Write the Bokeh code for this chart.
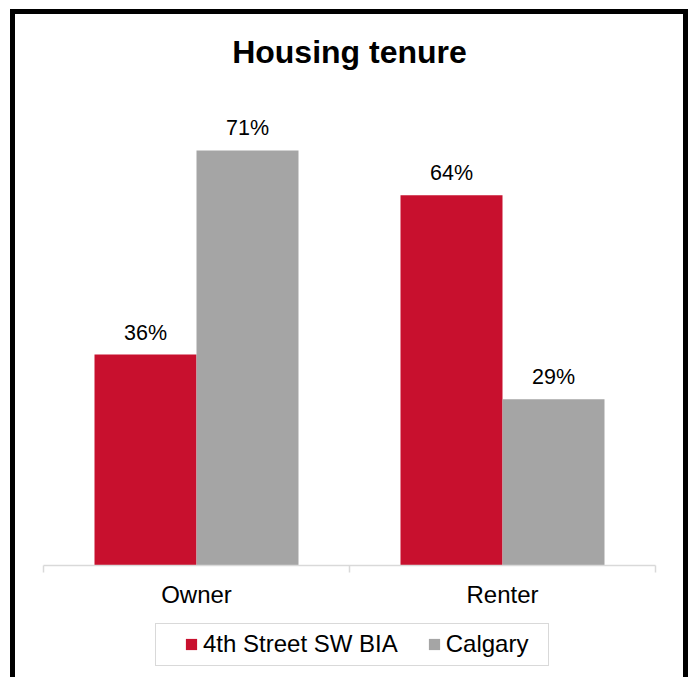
from bokeh.plotting import figure
from bokeh.layouts import column
from bokeh.models import (ColumnDataSource, Range1d, FixedTicker, LabelSet, Legend,
                          LegendItem, Title, InlineStyleSheet)
from bokeh.core.properties import value
from bokeh.embed import file_html
from bokeh.resources import INLINE

# ---- data ----
categories = ["Owner", "Renter"]
series_names = ["4th Street SW BIA", "Calgary"]
bia_values = [36.3, 63.7]
calgary_values = [71.4, 28.6]
bia_labels = ["36%", "64%"]
calgary_labels = ["71%", "29%"]

RED = "#C8102E"
GRAY = "#A5A5A5"
FONT = "Liberation Sans"

W = 692
H_MAIN, H_LEG = 618, 59

p = figure(width=W, height=H_MAIN, output_backend="svg", toolbar_location=None,
           x_range=Range1d(0, len(categories)), y_range=Range1d(0, 80),
           min_border_left=43, min_border_right=37, min_border_top=100,
           min_border_bottom=H_MAIN - 565)
p.frame_align = False
p.outline_line_color = None
p.xgrid.grid_line_color = None
p.ygrid.grid_line_color = None
p.yaxis.visible = False

centers = [i + 0.5 for i in range(len(categories))]
bw = 1.0 / 3.0
src_a = ColumnDataSource(dict(x=[c - bw / 2 for c in centers], top=bia_values, lab=bia_labels))
src_b = ColumnDataSource(dict(x=[c + bw / 2 for c in centers], top=calgary_values, lab=calgary_labels))

p.vbar(x="x", top="top", width=bw, source=src_a, fill_color=RED, line_color=None)
p.vbar(x="x", top="top", width=bw, source=src_b, fill_color=GRAY, line_color=None)

for s in (src_a, src_b):
    p.add_layout(LabelSet(x="x", y="top", text="lab", source=s, y_offset=15,
                          text_align="center", text_baseline="alphabetic",
                          text_font=value(FONT), text_font_size="21.5px", text_color="#000000"))

ax = p.xaxis[0]
ax.ticker = FixedTicker(ticks=centers, minor_ticks=list(range(len(categories) + 1)))
ax.major_label_overrides = {c: name for c, name in zip(centers, categories)}
ax.major_tick_line_color = None
ax.minor_tick_in = 0
ax.minor_tick_out = 7
ax.minor_tick_line_color = "#D9D9D9"
ax.minor_tick_line_width = 1.5
ax.axis_line_color = "#D9D9D9"
ax.axis_line_width = 1.5
ax.major_label_text_font = FONT
ax.major_label_text_font_size = "24px"
ax.major_label_text_color = "#000000"
ax.major_label_standoff = 8

p.title = Title(text="Housing tenure", align="center", text_font=FONT, standoff=62,
                text_font_size="32px", text_font_style="bold", text_color="#000000")

# ---- legend strip (own small figure so the legend sits below the axis) ----
# the same series are drawn here entirely outside the visible ranges; only their legend shows
q = figure(width=W, height=H_LEG, output_backend="svg", toolbar_location=None,
           x_axis_type=None, y_axis_type=None, x_range=Range1d(-20, -19),
           y_range=Range1d(-200, -199),
           min_border=0, min_border_left=0, min_border_right=0, min_border_top=0,
           min_border_bottom=0)
q.frame_align = False
q.outline_line_color = None
q.xgrid.grid_line_color = None
q.ygrid.grid_line_color = None
la = q.vbar(x="x", top="top", width=bw, source=src_a, fill_color=RED, line_color=None)
lb = q.vbar(x="x", top="top", width=bw, source=src_b, fill_color=GRAY, line_color=None)
legend = Legend(items=[LegendItem(label=series_names[0], renderers=[la]),
                       LegendItem(label=series_names[1], renderers=[lb])],
                orientation="horizontal", location=(184, 19),
                glyph_width=14, glyph_height=14, label_standoff=5, spacing=29,
                padding=0, margin=0, border_line_color=None, background_fill_alpha=0,
                label_text_font=FONT, label_text_font_size="24px", label_text_color="#000000")
q.add_layout(legend, "center")

# outer chart border and legend frame (decoration)
p.stylesheets = [InlineStyleSheet(css="""
:host { position: relative; }
:host::after { content: ""; position: absolute; left: 10px; top: 9px; right: 4px; bottom: 0px;
  border: 5px solid #000000; border-bottom: none; pointer-events: none; z-index: 10; }
""")]
q.stylesheets = [InlineStyleSheet(css="""
:host { position: relative; }
:host::after { content: ""; position: absolute; left: 10px; top: 0px; right: 4px; bottom: 0px;
  border-left: 5px solid #000000; border-right: 5px solid #000000; pointer-events: none; z-index: 10; }
:host::before { content: ""; position: absolute; left: 155px; top: 5px; width: 394px; height: 43px;
  box-sizing: border-box; border: 1.5px solid #D9D9D9; pointer-events: none; z-index: 10; }
""")]

layout = column(p, q, spacing=0)
open("out.html", "w").write(file_html(layout, INLINE))
